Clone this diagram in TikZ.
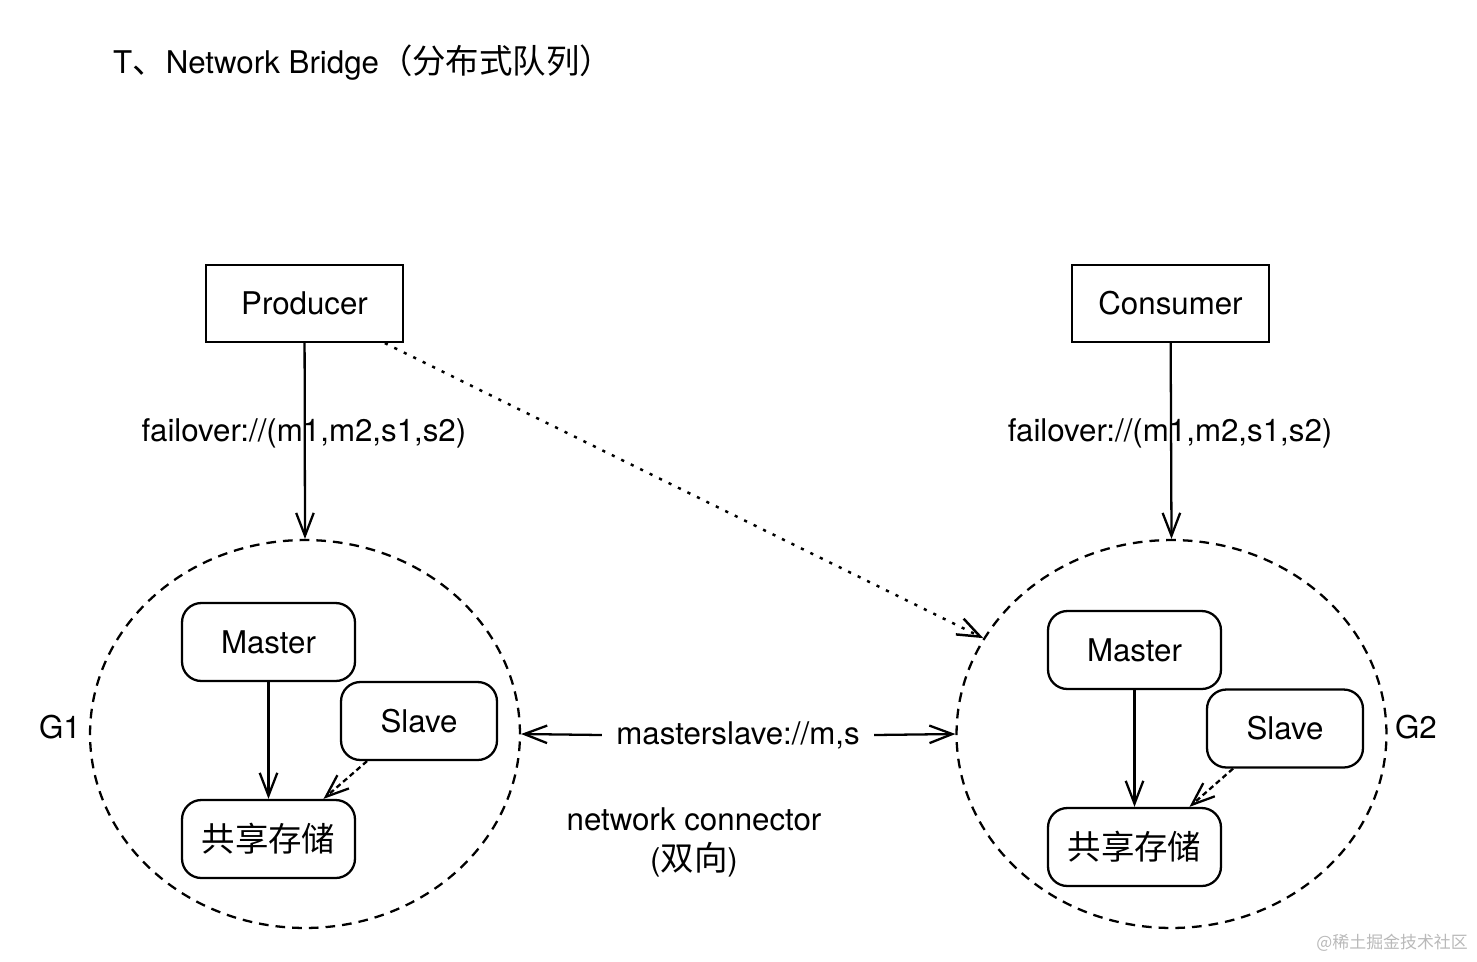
\documentclass[tikz,border=0pt]{standalone}
\usepackage{fontspec}
\setmainfont{TeX Gyre Heros}
\newfontfamily\cjk[Scale=1.07]{Noto Sans CJK SC}
\usepackage{tikz}
\usetikzlibrary{arrows.meta}
\usetikzlibrary{shapes.geometric}
\begin{document}
\begin{tikzpicture}[x=0.02cm,y=-0.02cm,
  every node/.style={font=\fontsize{17.8}{22.7}\selectfont},
  box/.style={draw,line width=1.3pt,minimum width=3.94cm,minimum height=1.54cm},
  rbox/.style={draw,line width=1.3pt,rounded corners=11pt,minimum height=1.56cm},
  grp/.style={draw,ellipse,inner sep=0pt,line width=1.3pt,dash pattern=on 5.5pt off 4pt,minimum width=8.6cm,minimum height=7.76cm},
  >={Straight Barb[length=13pt,width=10pt]}]
\useasboundingbox (0,0) rectangle (1477,961);
\node[anchor=west] (title) at (107,63) {T{\cjk 、}Network Bridge{\cjk （分布式队列）}};
\node[box] (prod) at (304.5,303.5) {Producer};
\node[box] (cons) at (1170.5,303.5) {Consumer};
\node[grp] (g1) at (305,734) {};
\node[grp] (g2) at (1171.5,734) {};
\node (lg1) at (60,727) {G1};
\node (lg2) at (1416,727) {G2};
% groupe 1
\node[rbox,minimum width=3.46cm] (m1) at (268.5,642) {Master};
\node[rbox,minimum width=3.12cm] (s1) at (419,721) {Slave};
\node[rbox,minimum width=3.46cm] (st1) at (268.5,839) {\cjk 共享存储};
% groupe 2
\node[rbox,minimum width=3.46cm] (m2) at (1134.5,650) {Master};
\node[rbox,minimum width=3.12cm] (s2) at (1285,728.5) {Slave};
\node[rbox,minimum width=3.46cm] (st2) at (1134.5,847) {\cjk 共享存储};
\node (fo1) at (304,433) {failover://(m1,m2,s1,s2)};
\node (fo2) at (1170,433) {failover://(m1,m2,s1,s2)};
\node[inner sep=8pt] (ms) at (738,735) {masterslave://m,s};
\node[align=center] (nc) at (694,842) {network connector\\({\cjk 双向})};
\node[anchor=east,text=gray!55,font=\cjk\fontsize{9}{11}\selectfont] (wm) at (1474,943) {@稀土掘金技术社区};
\draw [line width=1.3pt,->] (prod) -- (g1.north);
\draw [line width=1.3pt,->] (cons) -- (g2.north);
\draw [line width=1.4pt,->,dash pattern=on 1.8pt off 4.2pt] (prod) -- (g2.153);
\draw [line width=1.3pt,->] (ms.west) -- (g1.east);
\draw [line width=1.3pt,->] (ms.east) -- (g2.west);
\draw [line width=1.3pt,->] (m1) -- (st1);
\draw [line width=1.3pt,->] (m2) -- (st2);
\draw [line width=1.3pt,->,dash pattern=on 3pt off 2pt] ([xshift=-1.04cm]s1.south) -- ([xshift=1.1cm]st1.north);
\draw [line width=1.3pt,->,dash pattern=on 3pt off 2pt] ([xshift=-1.04cm]s2.south) -- ([xshift=1.1cm]st2.north);
\end{tikzpicture}
\end{document}
